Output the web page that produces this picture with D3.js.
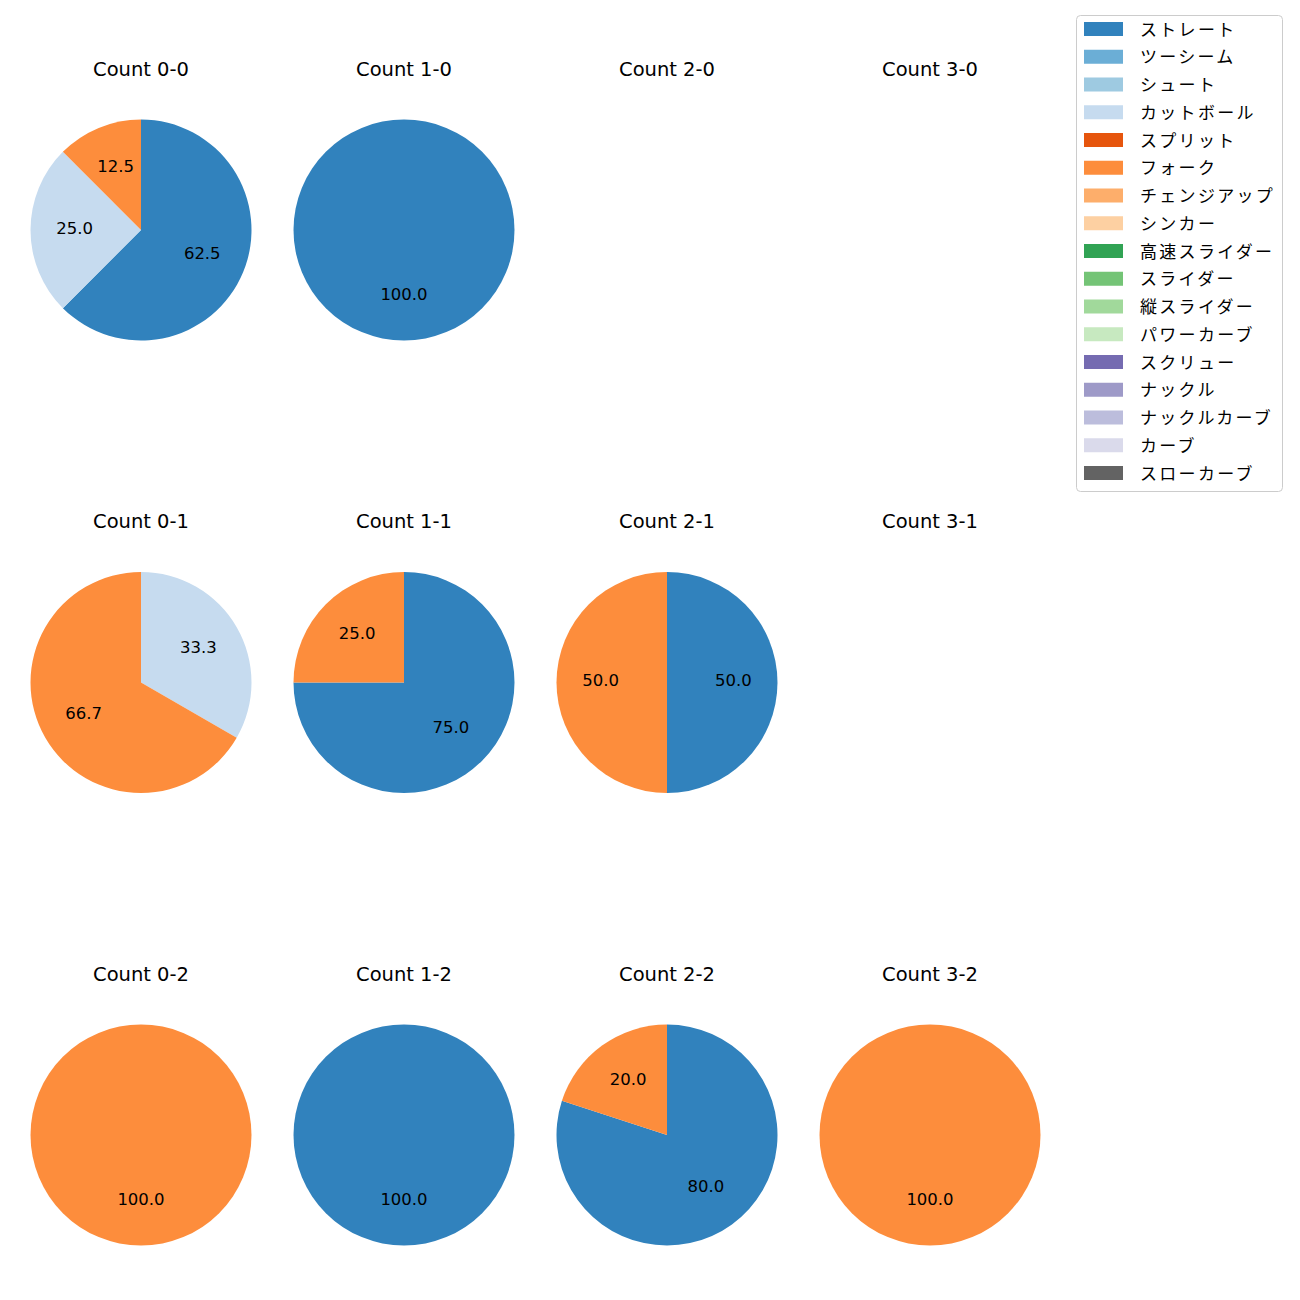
<!DOCTYPE html>
<html><head><meta charset="utf-8">
<script src="https://cdn.jsdelivr.net/npm/d3@7"></script>
<style>body{margin:0;background:#fff;} text{font-family:"DejaVu Sans","Noto Sans CJK JP",sans-serif;} text.jp{font-family:"Noto Sans CJK JP",sans-serif;}</style>
</head><body><svg id="c" width="1300" height="1300"></svg>
<script>
const pitchTypes = ["ストレート","ツーシーム","シュート","カットボール","スプリット","フォーク","チェンジアップ","シンカー","高速スライダー","スライダー","縦スライダー","パワーカーブ","スクリュー","ナックル","ナックルカーブ","カーブ","スローカーブ"];
const pitchColors = ["#3182bd","#6baed6","#9ecae1","#c6dbef","#e6550d","#fd8d3c","#fdae6b","#fdd0a2","#31a354","#74c476","#a1d99b","#c7e9c0","#756bb1","#9e9ac8","#bcbddc","#dadaeb","#636363"];
const balls = [0,1,2,3];
const strikes = [0,1,2];
// counts per panel, keyed "balls-strikes": [pitchType, count]
const panelData = {
  "0-0": [["ストレート",5],["カットボール",2],["フォーク",1]],
  "1-0": [["ストレート",1]],
  "2-0": [],
  "3-0": [],
  "0-1": [["カットボール",1],["フォーク",2]],
  "1-1": [["ストレート",3],["フォーク",1]],
  "2-1": [["ストレート",1],["フォーク",1]],
  "3-1": [],
  "0-2": [["フォーク",1]],
  "1-2": [["ストレート",1]],
  "2-2": [["ストレート",4],["フォーク",1]],
  "3-2": [["フォーク",1]]
};

const svg = d3.select("#c");
const color = d3.scaleOrdinal().domain(pitchTypes).range(pitchColors);
const xPos = d3.scalePoint().domain(balls).range([141, 930]);
const yPos = d3.scalePoint().domain(strikes).range([230, 1135]);
const R = 110.5;
const arc = d3.arc().innerRadius(0).outerRadius(R);
const labelArc = d3.arc().innerRadius(R*0.6).outerRadius(R*0.6);
const pie = d3.pie().sort(null).value(d => d[1]).startAngle(0).endAngle(2*Math.PI);

strikes.forEach(s => balls.forEach(b => {
  const key = b + "-" + s;
  const g = svg.append("g").attr("transform", `translate(${xPos(b)},${yPos(s)})`);
  g.append("text").attr("x", 0).attr("y", -161).attr("text-anchor","middle")
    .attr("dominant-baseline","central").attr("font-size", 19.5).attr("fill","#000").text("Count " + key);
  const data = panelData[key];
  if (!data.length) return;
  const total = d3.sum(data, d => d[1]);
  const arcs = pie(data);
  g.selectAll("path").data(arcs).join("path").attr("d", arc).attr("fill", d => color(d.data[0]));
  g.selectAll("text.lab").data(arcs).join("text").attr("class","lab")
    .attr("transform", d => { const c = labelArc.centroid(d); return `translate(${c[0]},${c[1]-2})`; })
    .attr("text-anchor","middle").attr("dominant-baseline","central")
    .attr("font-size", 16.5).attr("fill","#000")
    .text(d => (d.data[1]/total*100).toFixed(1));
}));

// legend
const lg = svg.append("g");
lg.append("rect").attr("x",1076.5).attr("y",15.5).attr("width",206).attr("height",476).attr("rx",4)
  .attr("fill","#fff").attr("fill-opacity",0.8).attr("stroke","#cccccc");
const ly = d3.scalePoint().domain(pitchTypes).range([29, 473]);
pitchTypes.forEach(p => {
  lg.append("rect").attr("x",1084).attr("y",ly(p)-7).attr("width",39).attr("height",14).attr("fill",color(p));
  lg.append("text").attr("class","jp").attr("x",1140).attr("y",ly(p)-1).attr("dominant-baseline","central")
    .attr("font-size",17).attr("letter-spacing",2.3).attr("fill","#000").text(p);
});
</script></body></html>
